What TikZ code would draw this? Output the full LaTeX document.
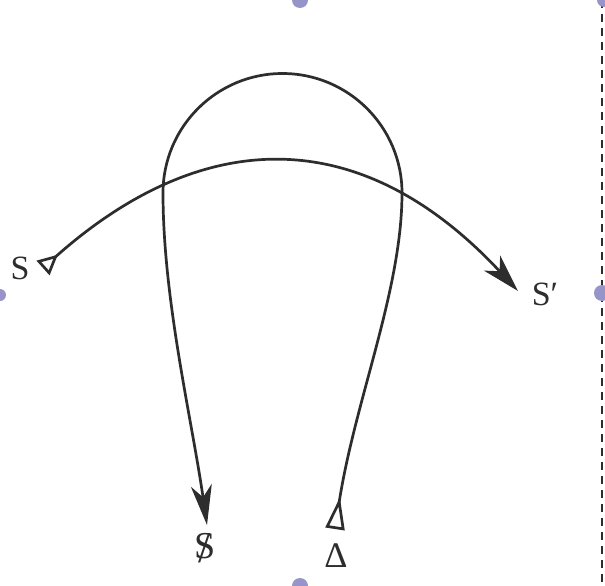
\documentclass[tikz,border=0pt]{standalone}
\usepackage{fontspec}
\setmainfont{Liberation Serif}
\usetikzlibrary{arrows.meta}
\definecolor{ink}{RGB}{45,45,45}
\definecolor{handle}{RGB}{150,148,200}
\begin{document}
\begin{tikzpicture}[x=1pt,y=-1pt,
  curve/.style={draw=ink,line width=2.7pt},
  lbl/.style={text=ink,inner sep=0pt,font=\fontsize{34}{38}\selectfont},
  handlemark/.style={fill=handle}]
\useasboundingbox[fill=white] (0,0) rectangle (605,586);
% frame artefacts
\draw[ink,line width=2pt,dash pattern=on 8pt off 6pt] (602,0) -- (602,586);
\fill[handlemark] (300,0) circle (8);
\fill[handlemark] (602,293) circle (8);
\fill[handlemark] (300,586) circle (8);
\fill[handlemark] (0,295) circle (6);
\fill[handlemark] (604,0) circle (7);
% points
\coordinate (s0) at (43,268);
\coordinate (s1) at (518,291);
\coordinate (d0) at (335,529);
\coordinate (r1) at (402,193);
\coordinate (l1) at (163,193);
\coordinate (x0) at (207,525);
% arc S -> S'
\draw[curve,{Triangle[open,reversed,length=20pt,width=19pt,line width=2.7pt]}-{Stealth[length=38pt,width=22pt,inset=11pt]}]
  (s0) .. controls (200,128) and (359,120) .. (s1);
% loop
\draw[curve,{Triangle[open,reversed,length=32pt,width=19pt,line width=2.7pt]}-{Stealth[length=40pt,width=21pt,inset=12pt]}]
  (d0) .. controls (355,400) and (402,290) .. (r1)
  arc[start angle=0,end angle=-180,radius=119.5]
  .. controls (163,300) and (192,420) .. (x0);
% labels
\node[lbl] (S) at (20,268) {S};
\node[lbl] (Sp) at (545,294) {S′};
\node[lbl,font=\fontsize{38}{42}\selectfont] (Sx) at (205,548) {\ooalign{S\cr\hfil\raisebox{-4pt}{\fontsize{44}{48}\selectfont/}\hfil}};
\node[lbl,font=\fontsize{36}{40}\selectfont] (D) at (336,556) {Δ};
\end{tikzpicture}
\end{document}
